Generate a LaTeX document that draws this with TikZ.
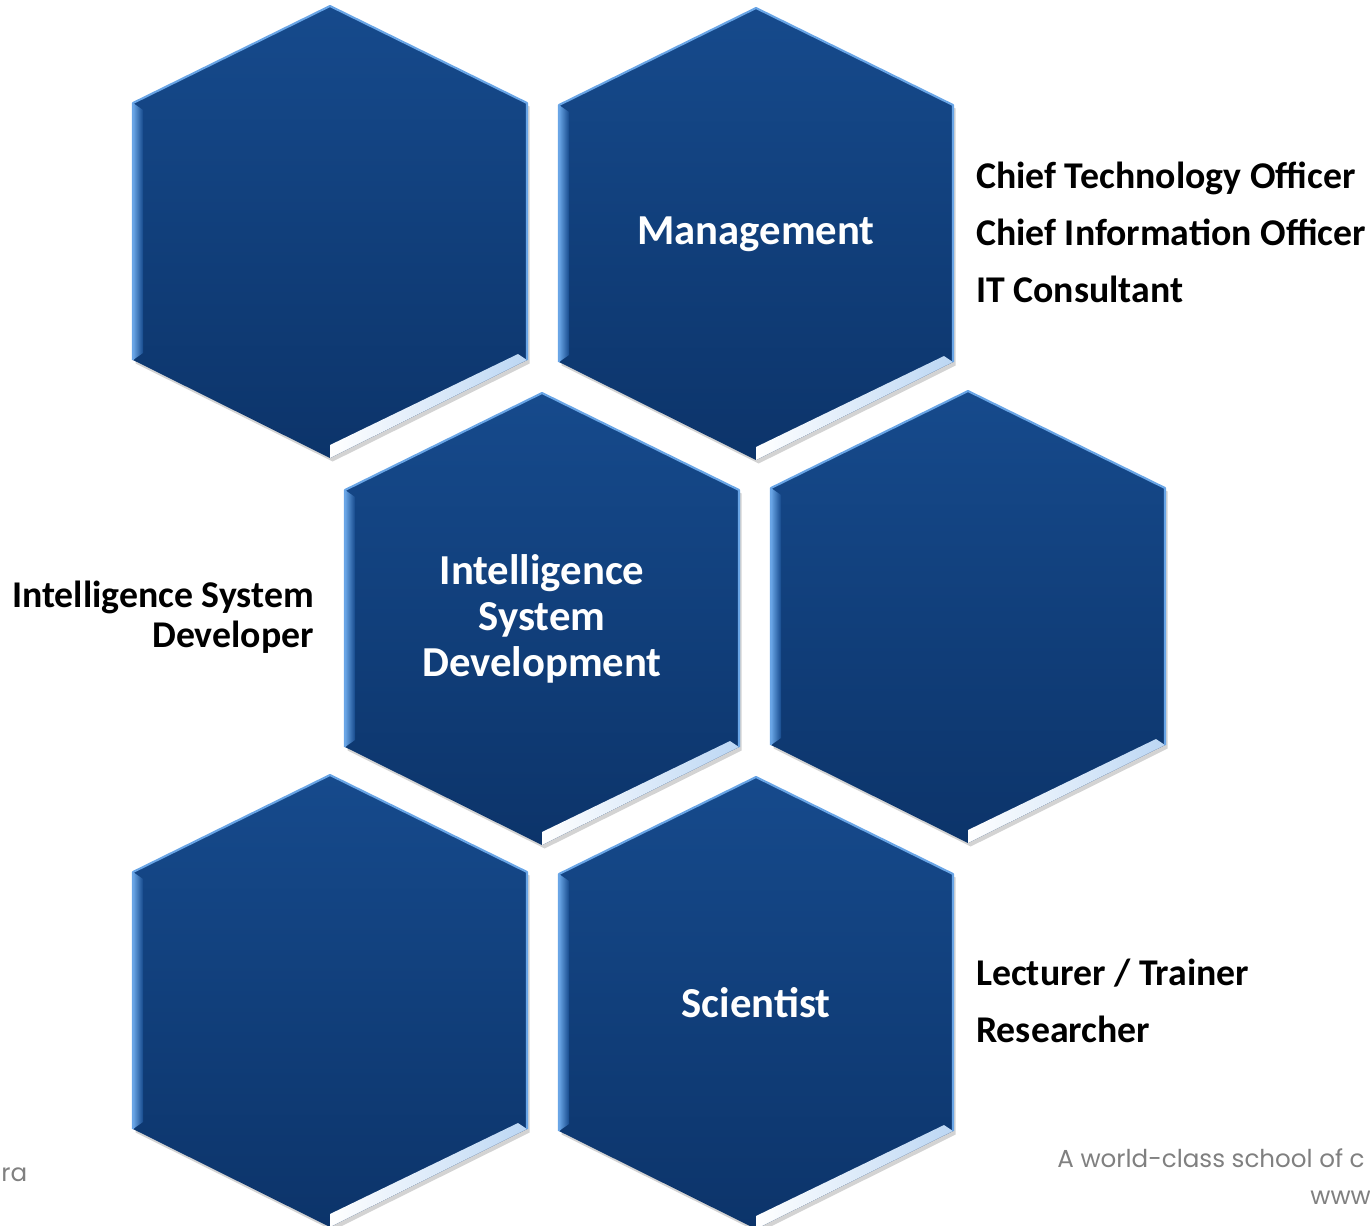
\documentclass[tikz,border=0pt]{standalone}
\usepackage{fontspec}
\setmainfont{Carlito}
\newfontfamily\footfont{Poppins}
\usetikzlibrary{shadows,positioning}
\pgfdeclarelayer{background}
\pgfsetlayers{background,main}
\definecolor{hextop}{RGB}{22,74,140}
\definecolor{hexbot}{RGB}{12,52,106}
\definecolor{hexrim}{RGB}{105,165,230}
\definecolor{footgray}{RGB}{128,128,128}
\tikzstyle{hexblock}=[top color=hextop, bottom color=hexbot, drop shadow={shadow xshift=1.5pt, shadow yshift=-2pt, opacity=0.35}]
\tikzstyle{hexlabel}=[align=center, text=white, font=\fontsize{24.3}{26}\selectfont\bfseries]
\tikzstyle{roletext}=[align=left, anchor=west, font=\fontsize{21.5}{32.5}\selectfont\bfseries]
\tikzstyle{foottext}=[text=footgray, font=\footfont\fontsize{14}{16}\selectfont, inner sep=0pt]

% hexagon round a named centre
\newcommand{\hexagon}[1]{%
\path[hexblock] ([shift={(0,-226)}]#1.center) -- ([shift={(197,-129)}]#1.center) -- ([shift={(197,128)}]#1.center) -- ([shift={(0,226)}]#1.center) -- ([shift={(-197,128)}]#1.center) -- ([shift={(-197,-129)}]#1.center) -- cycle;
\shade[left color=hexrim, right color=hextop] ([shift={(-197,-129)}]#1.center) -- ([shift={(-187,-122)}]#1.center) -- ([shift={(-187,121)}]#1.center) -- ([shift={(-197,128)}]#1.center) -- cycle;
\shade[left color=white, right color=hexrim!45!white] ([shift={(0,226)}]#1.center) -- ([shift={(0,213)}]#1.center) -- ([shift={(188,122)}]#1.center) -- ([shift={(197,128)}]#1.center) -- cycle;
\draw[hexrim, line width=1.2pt, line join=round] ([shift={(-197,128)}]#1.center) -- ([shift={(-197,-129)}]#1.center) -- ([shift={(0,-226)}]#1.center) -- ([shift={(197,-129)}]#1.center) -- ([shift={(197,128)}]#1.center);
}

\begin{document}
\begin{tikzpicture}[x=0.02cm, y=-0.02cm]
\useasboundingbox (0,0) rectangle (1370,1225);

\node[hexlabel] (tl) at (330,232) {};
\node[hexlabel] (mgmt) at (756,234) {Management};
\node[hexlabel] (isd) at (542,619) {Intelligence\\System\\Development};
\node[hexlabel] (mr) at (968,617) {};
\node[hexlabel] (bl) at (330,1001) {};
\node[hexlabel] (sci) at (756,1003) {Scientist};

\begin{pgfonlayer}{background}
\hexagon{tl}
\hexagon{mgmt}
\hexagon{isd}
\hexagon{mr}
\hexagon{bl}
\hexagon{sci}
\end{pgfonlayer}

\node[roletext] (mgmtroles) at (970,232) {Chief Technology Officer\\Chief Information Officer\\IT Consultant};
\node[roletext, anchor=east, align=right, font=\fontsize{21.5}{23}\selectfont\bfseries] (isdroles) at (320,617) {Intelligence System\\Developer};
\node[roletext] (sciroles) at (970,1001) {Lecturer / Trainer\\Researcher};

\node[foottext, anchor=west] (footleft) at (1,1175) {ra};
\node[foottext, anchor=west] (footright) at (1057,1158) {A world-class school of c};
\node[foottext, anchor=west] (footweb) at (1310,1198) {www};

\end{tikzpicture}
\end{document}
